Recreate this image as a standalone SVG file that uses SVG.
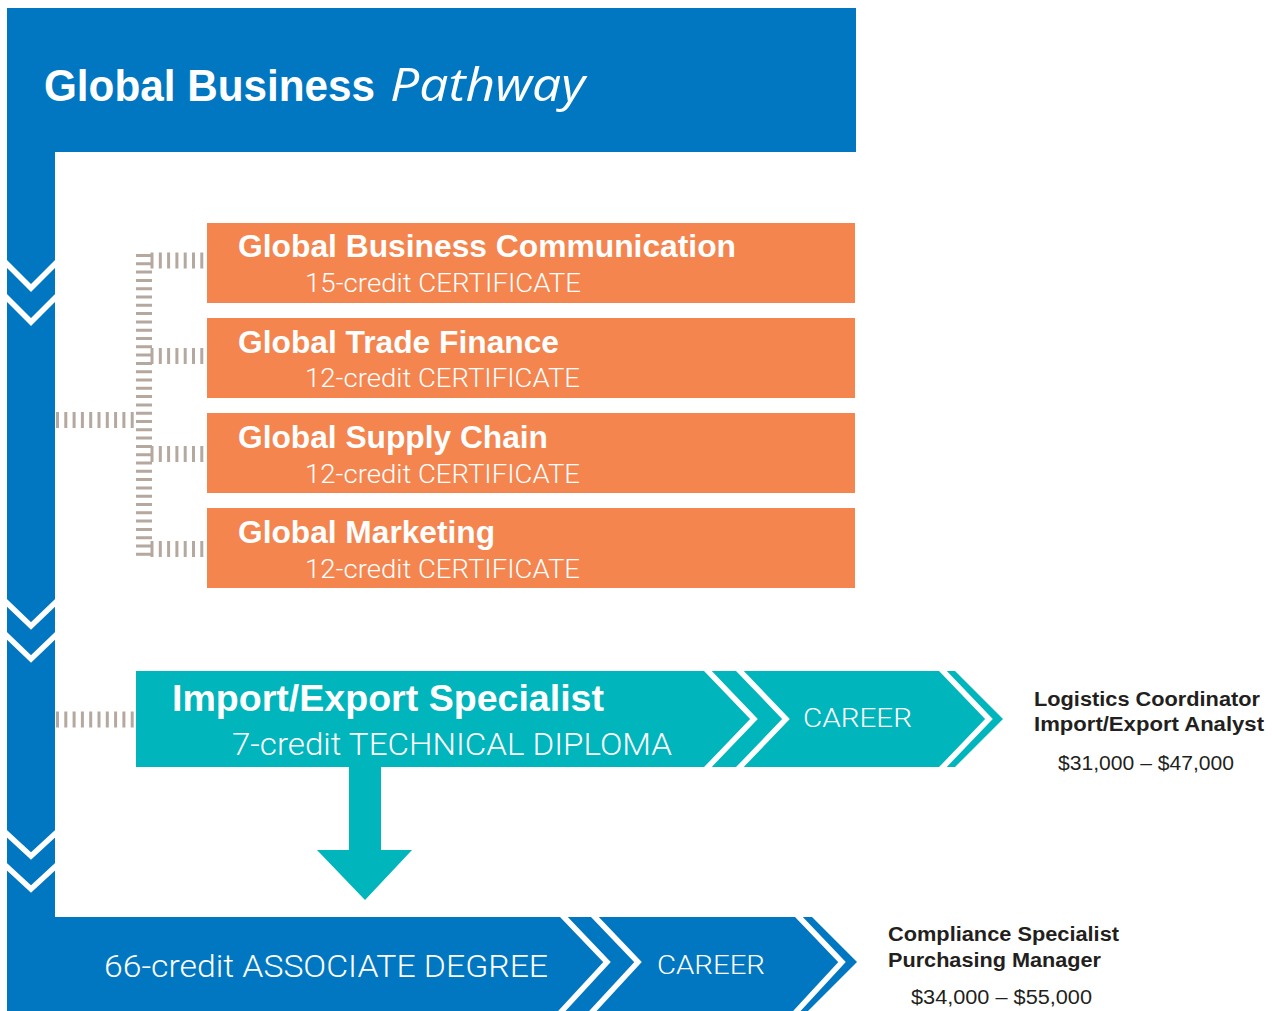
<svg xmlns="http://www.w3.org/2000/svg" width="1272" height="1011" viewBox="0 0 1272 1011">
<style>
.blue{fill:#0277c1}
.orange{fill:#f4854f}
.teal{fill:#00b5bb}
.cut{fill:none;stroke:#ffffff;stroke-width:5.5;stroke-linejoin:miter}
.dash{fill:none;stroke:#b5a89f;stroke-width:16;stroke-dasharray:3 5.3}
.h{font-family:"Liberation Sans",Arial,sans-serif;font-weight:bold;fill:#ffffff}
.s{font-family:Roboto,"Liberation Sans",Arial,sans-serif;font-weight:300;fill:#ffffff}
.rb{font-family:"Liberation Sans",Arial,sans-serif;font-weight:bold;fill:#231f20;font-size:20px}
.rr{font-family:"Liberation Sans",Arial,sans-serif;font-weight:normal;fill:#231f20;font-size:20px}
</style>
<rect width="1272" height="1011" fill="#ffffff"/>

<g id="spine">
<rect class="blue" x="7" y="8" width="849" height="144"/>
<rect class="blue" x="7" y="150" width="48" height="770"/>
<polyline class="cut" points="5,262 31,288 57,262"/>
<polyline class="cut" points="5,296 31,322 57,296"/>
<polyline class="cut" points="5,601 31,626 57,601"/>
<polyline class="cut" points="5,634 31,659 57,634"/>
<polyline class="cut" points="5,832 31,856 57,832"/>
<polyline class="cut" points="5,865 31,889 57,865"/>
<text class="h" x="44" y="101" font-size="44" textLength="331" lengthAdjust="spacingAndGlyphs">Global Business</text>
<text x="390" y="101" font-family="'Open Sans','Noto Sans',sans-serif" font-style="italic" font-weight="normal" font-size="46" fill="#ffffff" textLength="195" lengthAdjust="spacingAndGlyphs">Pathway</text>
</g>

<g id="connectors">
<path class="dash" d="M144,254 V558"/>
<path class="dash" d="M56,420 H136"/>
<path class="dash" d="M56,719.5 H134"/>
<path class="dash" d="M150.5,260.5 H207"/>
<path class="dash" d="M150.5,356 H207"/>
<path class="dash" d="M150.5,454 H207"/>
<path class="dash" d="M150.5,549 H207"/>
</g>

<g id="cert-communication">
<rect class="orange" x="207" y="223" width="648" height="80"/>
<text class="h" x="238" y="257" font-size="31" textLength="498" lengthAdjust="spacingAndGlyphs">Global Business Communication</text>
<text class="s" x="305" y="292" font-size="25" textLength="276" lengthAdjust="spacingAndGlyphs">15-credit CERTIFICATE</text>
</g>
<g id="cert-finance">
<rect class="orange" x="207" y="318" width="648" height="80"/>
<text class="h" x="238" y="353" font-size="31" textLength="321" lengthAdjust="spacingAndGlyphs">Global Trade Finance</text>
<text class="s" x="305" y="387" font-size="25" textLength="275" lengthAdjust="spacingAndGlyphs">12-credit CERTIFICATE</text>
</g>
<g id="cert-supply">
<rect class="orange" x="207" y="413" width="648" height="80"/>
<text class="h" x="238" y="448" font-size="31" textLength="310" lengthAdjust="spacingAndGlyphs">Global Supply Chain</text>
<text class="s" x="305" y="483" font-size="25" textLength="275" lengthAdjust="spacingAndGlyphs">12-credit CERTIFICATE</text>
</g>
<g id="cert-marketing">
<rect class="orange" x="207" y="508" width="648" height="80"/>
<text class="h" x="238" y="543" font-size="31" textLength="257" lengthAdjust="spacingAndGlyphs">Global Marketing</text>
<text class="s" x="305" y="578" font-size="25" textLength="275" lengthAdjust="spacingAndGlyphs">12-credit CERTIFICATE</text>
</g>

<g id="diploma">
<polygon class="teal" points="136,671 955,671 1003,719 955,767 136,767"/>
<polyline class="cut" points="706,669 754,719 706,769"/>
<polyline class="cut" points="738,669 786,719 738,769"/>
<polyline class="cut" points="941,669 989,719 941,769"/>
<text class="h" x="172" y="711" font-size="36" textLength="432" lengthAdjust="spacingAndGlyphs">Import/Export Specialist</text>
<text class="s" x="232" y="755" font-size="31" textLength="440" lengthAdjust="spacingAndGlyphs">7-credit TECHNICAL DIPLOMA</text>
<text class="s" x="803" y="727" font-size="26" textLength="109" lengthAdjust="spacingAndGlyphs">CAREER</text>
<polygon class="teal" points="349,766 381,766 381,850 412,850 365,900 317,850 349,850"/>
</g>

<g id="career-diploma">
<text class="rb" x="1034" y="706" textLength="226" lengthAdjust="spacingAndGlyphs">Logistics Coordinator</text>
<text class="rb" x="1034" y="731" textLength="230" lengthAdjust="spacingAndGlyphs">Import/Export Analyst</text>
<text class="rr" x="1058" y="770" textLength="176" lengthAdjust="spacingAndGlyphs">$31,000 – $47,000</text>
</g>

<g id="degree">
<polygon class="blue" points="7,917 812,917 857,962 806,1013 7,1013"/>
<polyline class="cut" points="562,915 607,962 560,1013"/>
<polyline class="cut" points="593,915 638,962 591,1013"/>
<polyline class="cut" points="797,915 842,962 795,1013"/>
<text class="s" x="104" y="977" font-size="31" textLength="444" lengthAdjust="spacingAndGlyphs">66-credit ASSOCIATE DEGREE</text>
<text class="s" x="657" y="974" font-size="26" textLength="108" lengthAdjust="spacingAndGlyphs">CAREER</text>
</g>

<g id="career-degree">
<text class="rb" x="888" y="941" textLength="231" lengthAdjust="spacingAndGlyphs">Compliance Specialist</text>
<text class="rb" x="888" y="967" textLength="213" lengthAdjust="spacingAndGlyphs">Purchasing Manager</text>
<text class="rr" x="911" y="1004" textLength="181" lengthAdjust="spacingAndGlyphs">$34,000 – $55,000</text>
</g>
</svg>
